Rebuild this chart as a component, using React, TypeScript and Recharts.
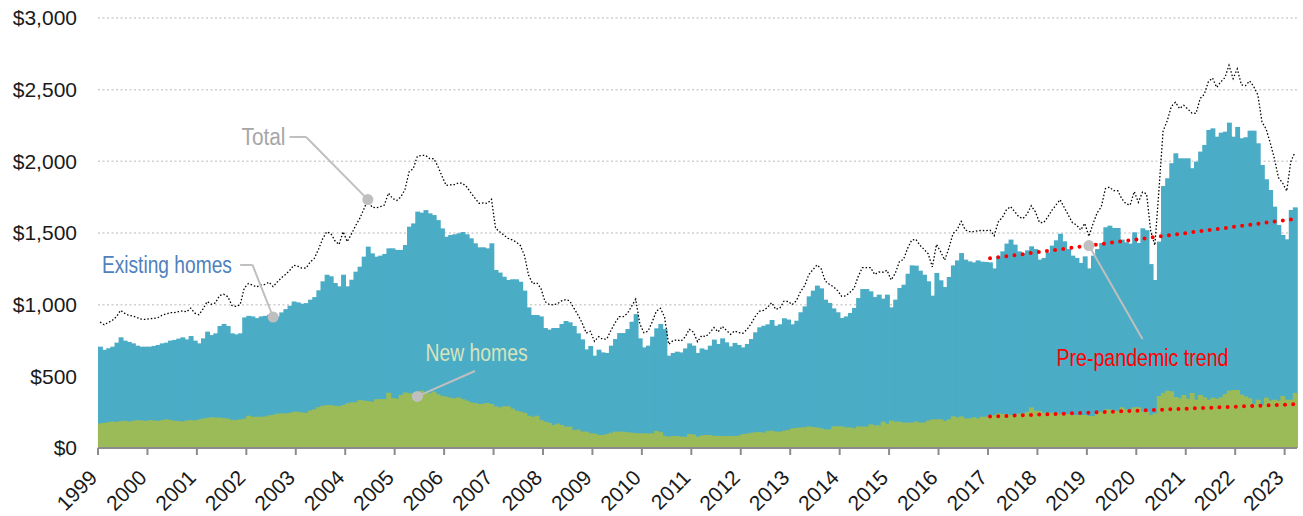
import React from "react";
import {
  Bar,
  CartesianGrid,
  ComposedChart,
  Line,
  ReferenceDot,
  ReferenceLine,
  XAxis,
  YAxis,
} from "recharts";

// monthly, Jan 1999 - Mar 2023
const years = [
  1999, 2000, 2001, 2002, 2003, 2004, 2005, 2006, 2007, 2008, 2009, 2010,
  2011, 2012, 2013, 2014, 2015, 2016, 2017, 2018, 2019, 2020, 2021, 2022,
  2023,
];

const existingHomes = [
  707, 685, 696, 707, 735, 772, 749, 740, 730, 714, 707, 707,
  707, 712, 719, 730, 735, 749, 754, 763, 772, 758, 781, 749,
  730, 765, 812, 788, 800, 851, 865, 851, 800, 793, 800, 911,
  922, 918, 906, 918, 922, 929, 894, 918, 946, 969, 993, 1022,
  1016, 1007, 1011, 1035, 1053, 1100, 1163, 1209, 1198, 1151, 1128, 1209,
  1128, 1174, 1230, 1265, 1335, 1405, 1358, 1335, 1342, 1354, 1393, 1393,
  1382, 1382, 1416, 1544, 1567, 1649, 1642, 1660, 1637, 1625, 1590, 1532,
  1474, 1486, 1491, 1498, 1507, 1491, 1463, 1428, 1400, 1400, 1393, 1428,
  1242, 1224, 1195, 1172, 1177, 1177, 1160, 1098, 981, 928, 928, 918,
  837, 826, 837, 837, 865, 886, 877, 851, 800, 758, 688, 712,
  644, 686, 667, 663, 714, 760, 802, 802, 830, 881, 934, 765,
  702, 714, 777, 835, 865, 830, 644, 663, 672, 667, 695, 730,
  714, 663, 695, 686, 714, 756, 726, 765, 737, 709, 733, 719,
  702, 726, 760, 807, 842, 853, 863, 893, 853, 863, 905, 896,
  863, 888, 947, 988, 1058, 1098, 1133, 1114, 1035, 1012, 974, 947,
  907, 918, 942, 977, 1046, 1109, 1109, 1093, 1053, 1070, 1042, 1070,
  981, 1035, 1116, 1139, 1216, 1274, 1272, 1237, 1209, 1163, 1063, 1221,
  1170, 1123, 1193, 1274, 1309, 1360, 1314, 1302, 1295, 1309, 1300, 1298,
  1295, 1253, 1337, 1372, 1426, 1454, 1419, 1372, 1360, 1379, 1407, 1388,
  1314, 1326, 1365, 1412, 1449, 1495, 1442, 1388, 1342, 1326, 1291, 1337,
  1253, 1342, 1388, 1430, 1540, 1551, 1535, 1535, 1454, 1435, 1426, 1505,
  1430, 1533, 1520, 1283, 1172, 1440, 1828, 1882, 1987, 2056, 2021, 2021,
  2021, 1952, 1998, 2068, 2114, 2219, 2230, 2172, 2200, 2207, 2270, 2172,
  2240, 2161, 2168, 2214, 2214, 2126, 1975, 1875, 1800, 1684, 1556, 1486,
  1456, 1661, 1679,
];

const newHomes = [
  172, 175, 180, 184, 182, 188, 190, 185, 190, 195, 192, 190,
  195, 192, 190, 195, 200, 195, 190, 188, 185, 192, 195, 192,
  200, 205, 210, 215, 212, 212, 208, 205, 195, 195, 200, 205,
  225, 218, 218, 218, 220, 228, 232, 240, 241, 242, 245, 253,
  252, 248, 245, 262, 270, 285, 295, 299, 299, 295, 292, 300,
  312, 318, 320, 335, 330, 328, 322, 340, 341, 341, 385, 348,
  345, 370, 387, 382, 382, 385, 400, 382, 382, 393, 375, 363,
  358, 350, 347, 352, 340, 330, 318, 315, 307, 310, 314, 307,
  290, 284, 291, 291, 275, 260, 253, 245, 225, 218, 225, 195,
  184, 176, 161, 170, 161, 149, 149, 125, 128, 114, 114, 102,
  100, 91, 91, 98, 107, 114, 114, 114, 110, 107, 104, 102,
  102, 102, 102, 119, 110, 84, 79, 84, 84, 79, 79, 98,
  95, 79, 88, 91, 91, 84, 84, 84, 84, 84, 84, 86,
  98, 100, 107, 110, 112, 107, 118, 121, 114, 114, 120, 126,
  137, 140, 144, 144, 151, 146, 144, 137, 130, 130, 151, 151,
  151, 144, 144, 137, 151, 149, 149, 165, 158, 158, 184, 170,
  191, 184, 184, 177, 177, 177, 184, 177, 177, 191, 200, 200,
  200, 188, 200, 221, 214, 221, 207, 207, 214, 207, 218, 218,
  225, 228, 241, 237, 237, 230, 230, 241, 241, 253, 283, 260,
  260, 246, 246, 246, 246, 237, 237, 237, 230, 230, 230, 230,
  223, 223, 253, 253, 269, 269, 260, 260, 284, 269, 269, 284,
  284, 253, 253, 230, 242, 363, 384, 400, 396, 356, 347, 370,
  344, 384, 337, 370, 354, 337, 351, 344, 354, 377, 400, 405,
  405, 373, 360, 347, 307, 337, 300, 351, 330, 337, 330, 363,
  337, 337, 384,
];

// pre-pandemic trend, Jan 2017 -> Mar 2023
const trendMonths = [216, 290];
const trendExisting = [1323, 1598];
const trendNew = [219, 305];

const yTicks = [0, 500, 1000, 1500, 2000, 2500, 3000];
const yearTicks = years.map((_, k) => k * 12);

const data = existingHomes.map((v, i) => {
  const t = trendMonths.indexOf(i);
  return {
    idx: i,
    existing: v,
    newHomes: newHomes[i],
    total: v + newHomes[i],
    trendExisting: t >= 0 ? trendExisting[t] : null,
    trendNew: t >= 0 ? trendNew[t] : null,
  };
});

const trendAt = (i: number, ends: number[]) =>
  ends[0] +
  ((ends[1] - ends[0]) * (i - trendMonths[0])) /
    (trendMonths[1] - trendMonths[0]);

const SANS = "'Liberation Sans', Arial, sans-serif";

// bars get truncated to whole pixels, widen a bit so no hairline gaps show
const SolidBar = (props: any) => {
  const { x, y, width, height, fill } = props;
  if (!height || height <= 0) return null;
  return <rect x={x} y={y} width={width + 0.9} height={height} fill={fill} />;
};

const YearTick = (props: any) => {
  const { x, y, payload } = props;
  const year = years[Math.round(payload.value / 12)];
  const tx = x - 2.06;
  const lx = tx + 0.5;
  const ly = y + 31;
  return (
    <g>
      <line x1={tx} y1={y} x2={tx} y2={y + 7} stroke="#8c8c8c" strokeWidth={2} />
      <text
        x={lx}
        y={ly}
        textAnchor="end"
        transform={`rotate(-45 ${lx} ${ly})`}
        fontSize={21}
        fontFamily={SANS}
        fill="#1a1a1a"
      >
        {year}
      </text>
    </g>
  );
};

// condensed look: squeeze a regular sans into the width of the original
const label =
  (text: string, color: string, anchor: "start" | "middle" | "end", w: number) =>
  (p: any) => (
    <text
      x={p.cx}
      y={p.cy}
      textAnchor={anchor}
      dominantBaseline="central"
      fontSize={23.5}
      fontFamily={SANS}
      textLength={w}
      lengthAdjust="spacingAndGlyphs"
      fill={color}
    >
      {text}
    </text>
  );

const leader = { stroke: "#bfbfbf", strokeWidth: 2 };

export default function App() {
  return (
    <div style={{ position: "absolute", left: 0, top: 0 }}>
      <ComposedChart
        width={1303}
        height={516}
        data={data}
        margin={{ top: 18, right: 6, bottom: 0, left: 0 }}
        barCategoryGap={0}
        barGap="-100%"
      >
        <CartesianGrid
          vertical={false}
          stroke="#d0d0d0"
          strokeDasharray="2 2.5"
          strokeWidth={1.5}
        />
        <XAxis
          dataKey="idx"
          type="category"
          ticks={yearTicks}
          interval={0}
          height={68}
          tickSize={0}
          tickMargin={0}
          tickLine={false}
          axisLine={{ stroke: "#8c8c8c", strokeWidth: 2 }}
          tick={<YearTick />}
        />
        <YAxis
          width={98}
          domain={[0, 3000]}
          ticks={yTicks}
          axisLine={false}
          tickLine={false}
          tickSize={0}
          tickMargin={21}
          tick={{ fontSize: 21, fill: "#1a1a1a", fontFamily: SANS }}
          tickFormatter={(v: number) => `$${v.toLocaleString("en-US")}`}
        />
        <Bar
          dataKey="existing"
          fill="#4bacc6"
          shape={<SolidBar />}
          isAnimationActive={false}
        />
        <Bar
          dataKey="newHomes"
          fill="#9bbb59"
          shape={<SolidBar />}
          isAnimationActive={false}
        />
        <Line
          dataKey="total"
          type="linear"
          stroke="#000"
          strokeWidth={1.3}
          strokeDasharray="1.5 2"
          dot={false}
          isAnimationActive={false}
        />
        <Line
          dataKey="trendExisting"
          type="linear"
          connectNulls
          stroke="#ff0000"
          strokeWidth={4}
          strokeLinecap="round"
          strokeDasharray="0 8.2"
          dot={false}
          isAnimationActive={false}
        />
        <Line
          dataKey="trendNew"
          type="linear"
          connectNulls
          stroke="#ff0000"
          strokeWidth={4}
          strokeLinecap="round"
          strokeDasharray="0 8.2"
          dot={false}
          isAnimationActive={false}
        />

        {/* Total */}
        <ReferenceLine segment={[{ x: 46, y: 2170 }, { x: 50, y: 2170 }]} {...leader} />
        <ReferenceLine segment={[{ x: 50, y: 2170 }, { x: 65, y: data[65].total }]} {...leader} />
        <ReferenceDot x={65} y={data[65].total} r={5.5} fill="#bfbfbf" stroke="none" />
        <ReferenceDot x={45} y={2170} r={0} shape={label("Total", "#a6a6a6", "end", 44)} />

        {/* Existing homes */}
        <ReferenceLine segment={[{ x: 34, y: 1277 }, { x: 37, y: 1277 }]} {...leader} />
        <ReferenceLine segment={[{ x: 37, y: 1277 }, { x: 42, y: 914 }]} {...leader} />
        <ReferenceDot x={42} y={914} r={5.5} fill="#bfbfbf" stroke="none" />
        <ReferenceDot
          x={32}
          y={1277}
          r={0}
          shape={label("Existing homes", "#4f81bd", "end", 130)}
        />

        {/* New homes */}
        <ReferenceLine segment={[{ x: 77, y: 360 }, { x: 91, y: 537 }]} {...leader} />
        <ReferenceDot x={77} y={360} r={5.5} fill="#bfbfbf" stroke="none" />
        <ReferenceDot
          x={79}
          y={663}
          r={0}
          shape={label("New homes", "#d7e4bd", "start", 102)}
        />

        {/* Pre-pandemic trend */}
        <ReferenceLine
          segment={[{ x: 240, y: trendAt(240, trendExisting) }, { x: 253, y: 760 }]}
          {...leader}
        />
        <ReferenceDot
          x={240}
          y={trendAt(240, trendExisting)}
          r={5.5}
          fill="#bfbfbf"
          stroke="none"
        />
        <ReferenceDot
          x={253}
          y={628}
          r={0}
          shape={label("Pre-pandemic trend", "#ff0000", "middle", 172)}
        />
      </ComposedChart>
    </div>
  );
}
